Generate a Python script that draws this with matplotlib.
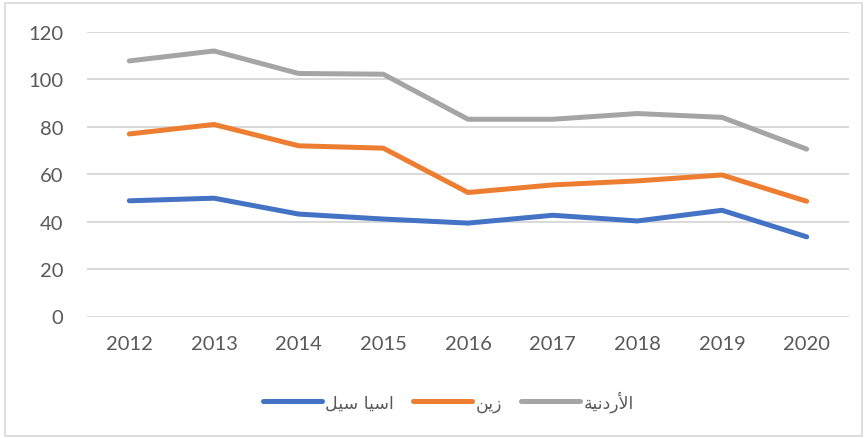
import matplotlib
matplotlib.use("Agg")
import matplotlib.pyplot as plt
from matplotlib.patches import Rectangle

years = ["2012", "2013", "2014", "2015", "2016", "2017", "2018", "2019", "2020"]
asiacell = [48.8, 49.9, 43.2, 41.1, 39.4, 42.7, 40.3, 44.8, 33.6]
zain = [77.0, 81.0, 72.0, 71.0, 52.3, 55.5, 57.2, 59.7, 48.6]
jordanian = [107.8, 112.0, 102.5, 102.2, 83.2, 83.2, 85.6, 84.0, 70.6]

# legend names, written in Arabic presentation forms in visual order
# (matplotlib does no Arabic shaping): اسيا سيل / زين / الأردنية
names = ["\ufede\ufef4\ufeb3 \ufe8e\ufef4\ufeb3\ufe8d",
         "\ufee6\ufef3\ufeaf",
         "\ufe94\ufef4\ufee7\ufea9\ufead\ufef7\ufe8d"]
colors = ["#4472C4", "#ED7D31", "#A5A5A5"]

fig = plt.figure(facecolor="w", figsize=(8.64, 4.39), dpi=100)
ax = fig.add_axes([87 / 864, 1 - 317.5 / 439, 762 / 864, 284.5 / 439])

x = range(len(years))
for vals, name, c in zip([asiacell, zain, jordanian], names, colors):
    ax.plot(x, vals, color=c, lw=3.6, solid_capstyle="round",
            solid_joinstyle="round", label=name)

ax.set_xlim(-0.5, len(years) - 0.5)
ax.set_ylim(0, 120)
ax.set_yticks(range(0, 121, 20))
ax.set_xticks(list(x))
ax.set_xticklabels(years)
ax.grid(axis="y", color="#D9D9D9", lw=1.4)
ax.set_axisbelow(True)
for s in ax.spines.values():
    s.set_visible(False)
ax.tick_params(length=0, labelsize=14.5, labelcolor="#595959")
ax.tick_params(axis="x", pad=13)
ax.tick_params(axis="y", pad=17)
for lab in ax.get_xticklabels() + ax.get_yticklabels():
    lab.set_family(["Lato", "DejaVu Sans"])

leg = fig.legend(loc="center", bbox_to_anchor=(0.519, 1 - 402 / 439), ncol=3,
                 frameon=False, handlelength=3.4, handletextpad=0.2,
                 columnspacing=1.1, prop={"family": ["DejaVu Sans"], "size": 12.5})
for t in leg.get_texts():
    t.set_color("#595959")

fig.patches.append(Rectangle((5 / 864, 2 / 439), 857 / 864, 433 / 439,
                             transform=fig.transFigure, fill=False,
                             edgecolor="#D9D9D9", lw=1.2))

fig.savefig("out.png", dpi=100, facecolor="w")
plt.close()
